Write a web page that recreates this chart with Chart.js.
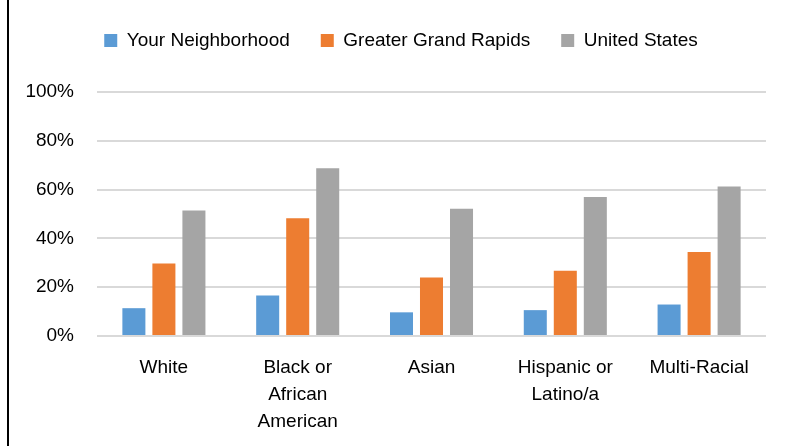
<!DOCTYPE html>
<html>
<head>
<meta charset="utf-8">
<script src="https://cdn.jsdelivr.net/npm/chart.js@4/dist/chart.umd.min.js"></script>
<style>
	html, body { margin: 0; padding: 0; background: #fff; }
	#wrap { position: relative; width: 794px; height: 446px; }
	#edge { position: absolute; left: 7px; top: 0; width: 2px; height: 446px; background: #000; }
</style>
</head>
<body>
<div id="wrap">
	<canvas id="chartjsBar" width="794" height="446"></canvas>
	<div id="edge"></div>
</div>
<script>
	// Categories and values (percent)
	var categories = ['White', ['Black or', 'African', 'American'], 'Asian', ['Hispanic or', 'Latino/a'], 'Multi-Racial'];
	var seriesNames = ['Your Neighborhood', 'Greater Grand Rapids', 'United States'];
	var neighborhood = [11.4, 16.6, 9.7, 10.6, 12.9];
	var grandRapids = [29.7, 48.3, 24.0, 26.7, 34.4];
	var unitedStates = [51.4, 68.8, 52.2, 57.0, 61.3];
	var yMax = 100;
	var yStep = 20;

	var colors = {
		blue : "#5b9bd5",
		orange : "#ed7d31",
		gray : "#a5a5a5",
		grid : "#d9d9d9",
		text : "#000"
	};

	var fontFamily = "'Liberation Sans', Arial, sans-serif";

	// push legend height so the plot starts lower, and nudge it right
	var legendSpace = {
		id : 'legendSpace',
		beforeInit : function(chart) {
			var origFit = chart.legend.fit;
			chart.legend.fit = function() {
				origFit.bind(chart.legend)();
				this.height += 32;
			};
		},
		afterLayout : function(chart) {
			chart.legend.left += 13;
			chart.legend.right += 13;
		}
	};

	new Chart(document.getElementById('chartjsBar'), {
		type : 'bar',
		data : {
			labels : categories,
			datasets : [ {
				label : seriesNames[0],
				backgroundColor : colors.blue,
				data : neighborhood
			}, {
				label : seriesNames[1],
				backgroundColor : colors.orange,
				data : grandRapids
			}, {
				label : seriesNames[2],
				backgroundColor : colors.gray,
				data : unitedStates
			} ]
		},
		options : {
			responsive : false,
			animation : false,
			categoryPercentage : 0.673,
			barPercentage : 0.767,
			layout : {
				padding : { top : 0, left : 10, right : 28, bottom : 0 }
			},
			plugins : {
				legend : {
					display : true,
					position : 'top',
					labels : {
						boxWidth : 13,
						boxHeight : 13,
						padding : 31,
						color : colors.text,
						font : { size : 19, family : fontFamily }
					}
				},
				tooltip : { enabled : false }
			},
			scales : {
				x : {
					grid : { display : false },
					border : { display : false },
					ticks : {
						color : colors.text,
						padding : 10,
						maxRotation : 0,
						autoSkip : false,
						font : { size : 19, family : fontFamily, lineHeight : 1.42 }
					},
					afterFit : function(axis) { axis.height = 110; }
				},
				y : {
					min : 0,
					max : yMax,
					grid : {
						color : colors.grid,
						lineWidth : 2,
						drawTicks : false
					},
					border : { display : false },
					ticks : {
						stepSize : yStep,
						color : colors.text,
						padding : 23,
						callback : function(v) { return v + '%'; },
						font : { size : 19, family : fontFamily }
					},
					afterFit : function(axis) { axis.width = 87; }
				}
			}
		},
		plugins : [ legendSpace ]
	});
</script>
</body>
</html>
